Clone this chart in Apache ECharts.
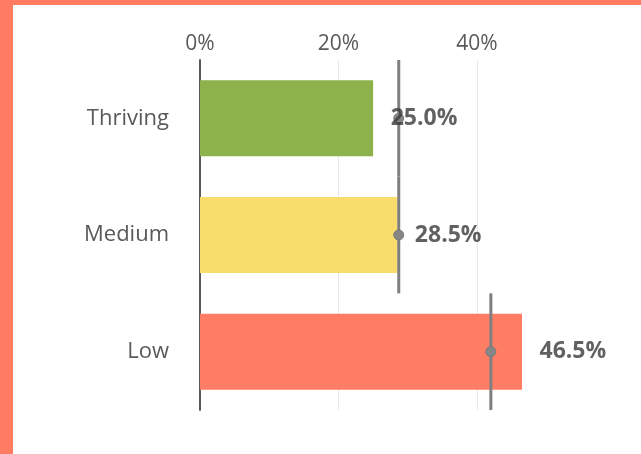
<!DOCTYPE html>
<html>
<head>
<meta charset="utf-8">
<script src="https://cdn.jsdelivr.net/npm/echarts@6/dist/echarts.min.js"></script>
<style>
  html, body { margin: 0; padding: 0; }
  body { width: 641px; height: 454px; background: #ff7b61; position: relative; overflow: hidden; }
  #chart { position: absolute; left: 13px; top: 5px; width: 628px; height: 449px; background: #ffffff; }
</style>
</head>
<body>
<div id="chart"></div>
<script>
// Share of respondents in each wellbeing group, with the benchmark marker per group
const categories = ['Thriving', 'Medium', 'Low'];
const shares = [25.0, 28.5, 46.5];
const benchmarks = [28.7, 28.7, 42.0];
const barColors = ['#8db14b', '#f9dd6c', '#ff7c65'];
const tickValues = [0, 20, 40];

const chart = echarts.init(document.getElementById('chart'), null, { renderer: 'canvas' });

const font = '"Open Sans", "DejaVu Sans", sans-serif';

chart.setOption({
  animation: false,
  grid: { left: 187, right: 25.5, top: 55, bottom: 44 },
  xAxis: {
    type: 'value',
    position: 'top',
    min: 0,
    max: 60,
    interval: 20,
    axisLine: { show: false },
    axisTick: { show: false },
    axisLabel: {
      margin: 5,
      color: '#595959',
      fontFamily: font,
      fontSize: 21,
      formatter: v => tickValues.indexOf(v) >= 0 ? v + '%' : ''
    },
    splitLine: {
      show: true,
      lineStyle: { color: ['transparent', '#e8e8e8', '#e8e8e8', 'transparent'], width: 1 }
    }
  },
  yAxis: {
    type: 'category',
    inverse: true,
    data: categories,
    axisLine: { show: true, lineStyle: { color: '#595959', width: 2 } },
    axisTick: { show: false },
    axisLabel: { margin: 31, color: '#595959', fontFamily: font, fontSize: 22 }
  },
  series: [
    {
      type: 'bar',
      z: 2,
      barWidth: 76,
      data: shares.map((v, i) => ({ value: v, itemStyle: { color: barColors[i] } }))
    },
    {
      type: 'custom',
      z: 3,
      data: benchmarks.map((v, i) => [v, i]),
      encode: { x: 0, y: 1 },
      renderItem: function (params, api) {
        const p = api.coord([api.value(0), api.value(1)]);
        const band = api.size([0, 1])[1];
        return {
          type: 'group',
          children: [
            {
              type: 'line',
              shape: { x1: p[0], y1: p[1] - band / 2, x2: p[0], y2: p[1] + band / 2 },
              style: { stroke: '#7f7f7f', lineWidth: 3 }
            },
            {
              type: 'circle',
              shape: { cx: p[0], cy: p[1], r: 5 },
              style: { fill: '#868686', stroke: '#7a7a7a', lineWidth: 1 }
            }
          ]
        };
      }
    },
    {
      type: 'scatter',
      z: 4,
      symbolSize: 1,
      itemStyle: { color: 'rgba(0,0,0,0)' },
      data: shares.map((v, i) => [v, i]),
      label: {
        show: true,
        position: 'right',
        distance: 17,
        color: '#3a3a3a',
        fontFamily: font,
        fontWeight: 'bold',
        fontSize: 23,
        formatter: p => p.value[0].toFixed(1) + '%'
      }
    }
  ]
});
</script>
</body>
</html>
